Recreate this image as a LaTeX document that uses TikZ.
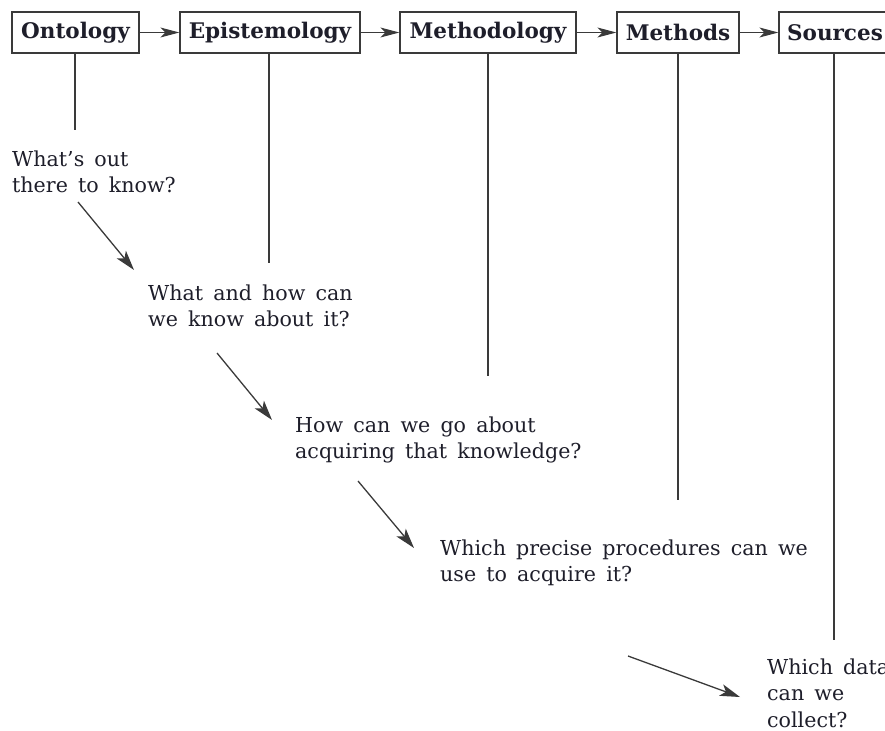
\documentclass[tikz,border=0pt]{standalone}
\usepackage{fontspec}
\setmainfont{DejaVu Serif}[WordSpace=1.55]
\usetikzlibrary{arrows.meta}
\definecolor{ink}{HTML}{1E1E2A}
\definecolor{rulegray}{HTML}{3A3A3A}
\begin{document}
\begin{tikzpicture}[x=1pt,y=-1pt,
  stage/.style={draw=rulegray, line width=1.3pt, fill=white, minimum height=41pt,
    inner sep=0pt, font=\fontsize{21.5}{23}\selectfont\bfseries, text=ink},
  question/.style={anchor=north west, align=left, inner sep=0pt,
    font=\fontsize{20.6}{26.5}\selectfont, text=ink},
  flow/.style={draw=rulegray, line width=1.3pt,
    -{Stealth[length=20pt,width=12pt,inset=5pt]}},
  link/.style={draw=rulegray, line width=1.3pt,
    -{Stealth[length=19pt,width=10pt,inset=5pt]}},
  stem/.style={draw=rulegray, line width=1.2pt}]
\useasboundingbox (0,0) rectangle (885,730);
\clip (0,0) rectangle (885,730);

% stages of the research process
\node[stage, minimum width=127pt] (onto) at (75.5,32.5) {Ontology};
\node[stage, minimum width=180pt] (epis) at (270,32.5) {Epistemology};
\node[stage, minimum width=176pt] (meth) at (488,32.5) {Methodology};
\node[stage, minimum width=122pt] (mtds) at (678,32.5) {Methods};
\node[stage, minimum width=112pt] (srcs) at (835,32.5) {Sources};

\draw[link] (onto) -- (epis);
\draw[link] (epis) -- (meth);
\draw[link] (meth) -- (mtds);
\draw[link] (mtds) -- (srcs);

% guiding questions
\node[question] (q1) at (12,150.5) {What’s out\\there to know?};
\node[question] (q2) at (148,284.5) {What and how can\\we know about it?};
\node[question] (q3) at (295,416.5) {How can we go about\\acquiring that knowledge?};
\node[question] (q4) at (440,539.5) {Which precise procedures can we\\use to acquire it?};
\node[question] (q5) at (767,658.5) {Which data\\can we\\collect?};

% stems dropping from each stage
\coordinate (e1) at (75,130);
\coordinate (e2) at (269,263);
\coordinate (e3) at (488,376);
\coordinate (e4) at (678,500);
\coordinate (e5) at (834,640);
\draw[stem] (onto.south -| e1) -- (e1);
\draw[stem] (epis.south -| e2) -- (e2);
\draw[stem] (meth.south -| e3) -- (e3);
\draw[stem] (mtds.south -| e4) -- (e4);
\draw[stem] (srcs.south -| e5) -- (e5);

% arrows leading from one question to the next
\coordinate (s1) at (78,202);   \coordinate (t1) at (134,270);
\coordinate (s2) at (217,353);  \coordinate (t2) at (272,420);
\coordinate (s3) at (358,481);  \coordinate (t3) at (414,548);
\coordinate (s4) at (628,656);  \coordinate (t4) at (740,697);
\draw[flow] (s1) -- (t1);
\draw[flow] (s2) -- (t2);
\draw[flow] (s3) -- (t3);
\draw[flow] (s4) -- (t4);
\end{tikzpicture}
\end{document}
